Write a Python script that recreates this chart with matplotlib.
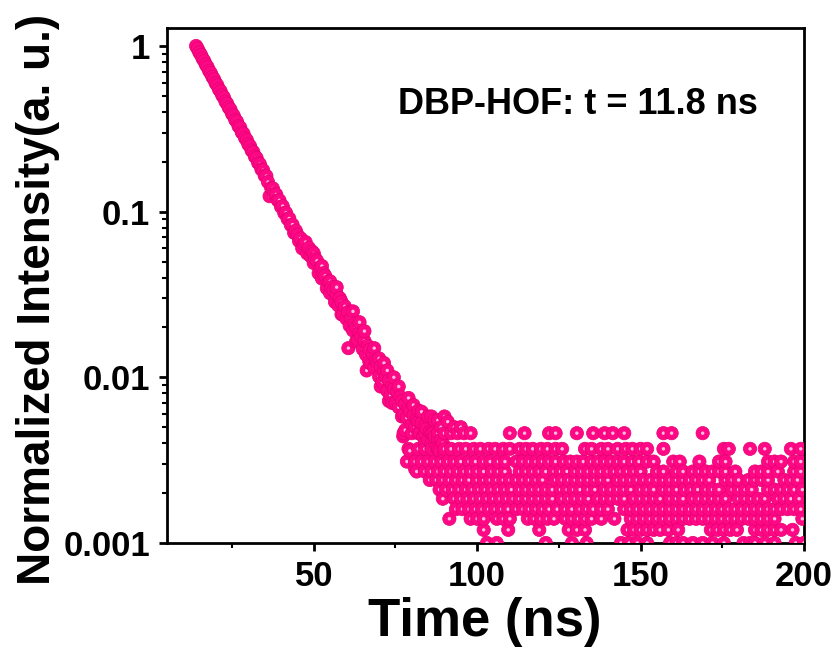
import matplotlib
matplotlib.use('Agg')
import matplotlib.pyplot as plt
import numpy as np
from matplotlib.ticker import MultipleLocator, LogLocator, NullFormatter

plt.rcParams['font.family'] = ['Liberation Sans', 'DejaVu Sans']
plt.rcParams['font.weight'] = 'bold'

# clean mono-exponential part of the decay (ns, normalized counts)
decay_t = [14.0, 14.5, 15.0, 15.5, 16.0, 16.5, 17.0, 17.5, 18.0, 18.5, 19.0, 19.5,
           20.0, 20.5, 21.0, 21.5, 22.0, 22.5, 23.0, 23.5, 24.0, 24.5, 25.0, 25.5,
           26.0, 26.5, 27.0, 27.5, 28.0, 28.5, 29.0, 29.5, 30.0, 30.5, 31.0, 31.5,
           32.0, 32.5, 33.0, 33.5, 34.0, 34.5, 35.0, 35.5, 36.0, 36.5, 37.0, 37.5,
           38.0, 38.5, 39.0, 39.5, 40.0, 40.5, 41.0, 41.5, 42.0, 42.5, 43.0, 43.5,
           44.0, 44.5]
decay_i = [1.000, 0.962, 0.915, 0.884, 0.840, 0.812, 0.771, 0.746, 0.708, 0.686, 0.651, 0.630,
           0.597, 0.579, 0.548, 0.533, 0.504, 0.490, 0.462, 0.449, 0.425, 0.414, 0.390, 0.380,
           0.358, 0.350, 0.328, 0.322, 0.301, 0.296, 0.278, 0.271, 0.255, 0.249, 0.234, 0.229,
           0.215, 0.211, 0.197, 0.194, 0.180, 0.178, 0.165, 0.164, 0.151, 0.124, 0.139, 0.138,
           0.128, 0.127, 0.117, 0.117, 0.107, 0.108, 0.098, 0.0985, 0.0905, 0.091, 0.083, 0.0835,
           0.0745, 0.0768]

# noisier tail of the decay
tail_t = [45.0, 45.5, 46.0, 46.5, 47.0, 47.5, 48.0, 48.5, 49.0, 49.5, 50.0, 50.5,
          51.0, 51.5, 52.0, 52.5, 53.0, 53.5, 54.0, 54.5, 55.0, 55.5, 56.0, 56.5,
          57.0, 57.5, 58.0, 58.5, 59.0, 59.5, 60.0, 60.5, 61.0, 61.5, 62.0, 62.5,
          63.0, 63.5, 64.0, 64.5, 65.0, 65.5, 66.0, 66.5, 67.0, 67.5, 68.0, 68.5,
          69.0, 69.5, 70.0, 70.5, 71.0, 71.5, 72.0, 72.5, 73.0, 73.5, 74.0, 74.5,
          75.0, 75.5, 76.0, 76.5, 77.0, 77.5, 78.0, 78.5, 79.0, 79.5, 80.0, 80.5,
          81.0, 81.5, 82.0, 82.5, 83.0, 83.5, 84.0, 84.5, 85.0, 85.5, 86.0, 86.5,
          87.0, 87.5, 88.0, 88.5, 89.0, 89.5, 90.0]
tail_i = [0.0725, 0.0665, 0.0690, 0.0600, 0.0640, 0.0655, 0.0560, 0.0605, 0.0540, 0.0575, 0.0490, 0.0520,
          0.0505, 0.0425, 0.0460, 0.0395, 0.0425, 0.0410, 0.0345, 0.0380, 0.0322, 0.0350, 0.0335, 0.0285,
          0.0318, 0.0272, 0.0300, 0.0285, 0.0240, 0.0268, 0.0226, 0.0248, 0.0205, 0.0228, 0.0192, 0.0212,
          0.0200, 0.0168, 0.0186, 0.0176, 0.0148, 0.0166, 0.0137, 0.0155, 0.0146, 0.0121, 0.0139, 0.0115,
          0.0127, 0.0122, 0.0101, 0.0116, 0.0094, 0.0108, 0.0101, 0.0083, 0.0096, 0.0078, 0.0089, 0.0085,
          0.0070, 0.0082, 0.0066, 0.0076, 0.0072, 0.0060, 0.0069, 0.0057, 0.0065, 0.0062, 0.0052, 0.0059,
          0.0050, 0.0056, 0.0054, 0.0046, 0.0053, 0.0044, 0.0051, 0.0049, 0.0042, 0.0047, 0.0040, 0.0046,
          0.0044, 0.0038, 0.0043, 0.0036, 0.0042, 0.0040, 0.0035]

# stray points around the decay band
stray_t = [60.6, 66.2, 77.4, 78.0, 79.4, 81.0, 64.0, 70.0, 72.5, 74.0, 83.0, 86.0,
           88.0, 91.0, 93.0, 95.0, 50.0, 52.5, 55.0, 57.0, 58.5, 62.0, 63.0, 65.5,
           67.0, 68.5, 70.5, 71.5, 73.0, 74.5, 76.0, 77.0, 79.0, 80.5, 82.0, 84.0,
           85.0, 87.0, 89.0, 90.0]
stray_i = [0.0150, 0.0110, 0.0044, 0.0048, 0.0036, 0.0028, 0.0215, 0.0130, 0.0110, 0.0070, 0.0062, 0.0058,
           0.0055, 0.0054, 0.0050, 0.0050, 0.0560, 0.0470, 0.0380, 0.0350, 0.0240, 0.0250, 0.0165, 0.0190,
           0.0125, 0.0150, 0.0088, 0.0122, 0.0072, 0.0100, 0.0088, 0.0058, 0.0075, 0.0068, 0.0063, 0.0040,
           0.0058, 0.0055, 0.0050, 0.0058]

# background floor: counts sit on discrete levels
floor_levels = [0.001, 0.0012, 0.0014, 0.0016, 0.00185, 0.0021, 0.0024, 0.0027, 0.0031, 0.0037, 0.0046]
row_0010 = [103, 106, 121, 129, 133.5, 144, 146.5, 149, 152, 159, 161, 163, 166, 169, 172, 175.5,
            181.5, 183.5, 185, 188, 191, 197.5, 200]
row_0012 = [102, 109.5, 119, 128, 130.5, 133, 146, 148, 150, 152, 154, 156, 158.5, 161.5, 171.5,
            173.5, 175.5, 177.5, 179.5, 185, 187, 189, 191, 193, 196.5]
row_0014 = [91.5, 98, 100, 102, 106, 108, 110, 115.5, 117.5, 119.5, 121.5, 123.5, 127, 129, 131,
            133, 135, 138, 142, 147, 149, 151, 153, 155, 157, 159, 161, 163, 165, 167, 169, 171,
            173, 175, 177, 179, 181, 183, 185, 187, 189, 191, 199.5]
row_0016 = [93.5, 95.5, 97.5, 99.5, 101.5, 103.5, 105.5, 107.5, 109.5, 112, 114, 116, 118, 120,
            122, 124.5, 127, 129, 131.5, 133.5, 135.5, 138, 140, 145, 147, 149, 151, 153, 155,
            157, 159, 161, 163, 165, 167, 169, 171, 173, 175, 177, 179, 181, 183, 185, 187, 189,
            191, 193, 195, 197, 199]
row_0018 = [89.5, 93, 95, 97, 99, 101, 103, 105, 107, 109, 111, 113, 115, 117, 119, 121, 123,
            126, 128, 130, 132, 134, 137, 139, 141, 143, 145, 148, 150, 152, 154, 156, 159, 161,
            163, 166, 168, 170, 172, 174, 176, 180, 182, 184, 186, 188, 192, 194, 196, 198.5]
row_0021 = [88.5, 90.5, 92.5, 94.5, 96.5, 98.5, 100.5, 102.5, 104.5, 106.5, 108.5, 110.5, 113,
            115, 117, 119, 121, 123, 125.5, 127.5, 129.5, 131.5, 134, 136, 139, 141, 143, 145,
            147, 150, 152, 154, 157, 159, 161, 163.5, 165.5, 167.5, 170, 172, 174, 178, 180,
            182, 184, 189, 191, 193, 195, 197, 199.5]
row_0024 = [85.5, 87.5, 89.5, 91.5, 93.5, 95.5, 97.5, 100, 102, 104, 106, 108, 110, 112, 114,
            116, 118, 120, 124, 126, 128, 130, 132, 134, 136, 138, 140, 143, 145, 147, 149, 151,
            153, 155, 157, 159, 161, 163, 165, 167, 169, 171, 176, 178, 180, 183, 185, 187, 189,
            194, 196, 198]
row_0027 = [81.5, 84, 86, 88, 90, 92, 94, 96, 98, 100, 102, 104.5, 106.5, 108.5, 113, 115, 117,
            119, 121, 123.5, 125.5, 127.5, 130, 132, 134, 136, 138, 140, 142, 144, 146, 148, 150,
            155, 157, 161, 163, 166, 168, 170, 172, 174, 176, 179, 185, 187, 189, 192, 197, 199]
row_0031 = [78.5, 81, 83, 85, 87, 89, 91, 93, 95, 97.5, 99.5, 102, 104, 106.5, 108.5, 112, 114,
            116, 118, 120, 122, 124, 126.5, 128.5, 130.5, 132.5, 135, 137, 139, 141, 143, 145,
            147.5, 149.5, 152, 154, 160, 162, 168, 174, 176, 189, 191, 193, 197, 199]
row_0037 = [79, 82, 84, 86, 88, 90, 92, 94.5, 96.5, 99, 101, 103.5, 105.5, 108, 110, 113, 115,
            117, 119.5, 121.5, 124, 126, 133, 135, 138, 140, 143, 145.5, 147.5, 150, 152, 157,
            175.5, 177, 183.5, 188, 196, 199]
row_0046 = [77.5, 80, 82, 84, 86, 88, 90, 92, 94, 96, 98, 110, 114.5, 122, 124, 130.5, 135.5,
            139, 141.5, 145, 157, 159.5, 169]
floor_rows = [row_0010, row_0012, row_0014, row_0016, row_0018, row_0021, row_0024,
              row_0027, row_0031, row_0037, row_0046]

ytick_vals = [0.001, 0.01, 0.1, 1]
ytick_labels = ['0.001', '0.01', '0.1', '1']
xtick_vals = [50, 100, 150, 200]

# collect every point, keep time order so later points sit on top
t_all = list(decay_t) + list(tail_t) + list(stray_t)
i_all = list(decay_i) + list(tail_i) + list(stray_i)
for level, row in zip(floor_levels, floor_rows):
    t_all += row
    i_all += [level] * len(row)
order = np.argsort(t_all, kind='stable')
t_all = np.asarray(t_all)[order]
i_all = np.asarray(i_all)[order]

# each point = pink ball followed by its own small highlight
n = len(t_all)
xs = np.repeat(t_all, 2)
ys = np.repeat(i_all, 2)
sizes = np.tile([92, 6], n)
face = np.tile(np.array([[1.0, 0.03, 0.52, 1.0], [1.0, 0.74, 0.87, 1.0]]), (n, 1))
edge = np.tile(np.array([[0.90, 0.0, 0.45, 1.0], [1.0, 0.74, 0.87, 0.0]]), (n, 1))

fig = plt.figure(figsize=(8.38, 6.53), dpi=100)
ax = fig.add_axes([0.1989, 0.1685, 0.7605, 0.7891])

ax.scatter(xs, ys, s=sizes, c=face, edgecolors=edge, linewidths=0.5, zorder=3, clip_on=True)

ax.set_yscale('log')
ax.set_xlim(5, 200)
ax.set_ylim(0.001, 1.29)

ax.set_yticks(ytick_vals, labels=ytick_labels)
ax.yaxis.set_minor_locator(LogLocator(base=10, subs=np.arange(2, 10)))
ax.yaxis.set_minor_formatter(NullFormatter())
ax.set_xticks(xtick_vals)
ax.xaxis.set_minor_locator(MultipleLocator(25))

for s in ax.spines.values():
    s.set_linewidth(2.0)
ax.tick_params(which='major', direction='out', length=6, width=2, labelsize=25, pad=6)
ax.tick_params(which='minor', direction='out', length=3.5, width=1.5)
ax.tick_params(top=False, right=False, which='both')
for lab in ax.get_xticklabels() + ax.get_yticklabels():
    lab.set_fontweight('bold')

ax.text(0.363, 0.850, 'DBP-HOF: t = 11.8 ns', transform=ax.transAxes,
        fontsize=26, fontweight='bold', ha='left', va='center')

fig.text(485 / 838, 1 - 622 / 653, 'Time (ns)', fontsize=38, fontweight='bold',
         ha='center', va='center')
fig.text(38 / 838, 1 - 299 / 653, 'Normalized Intensity(a. u.)', fontsize=33,
         fontweight='bold', rotation=90, ha='center', va='center')

fig.savefig('out.png', dpi=100)
plt.close(fig)
